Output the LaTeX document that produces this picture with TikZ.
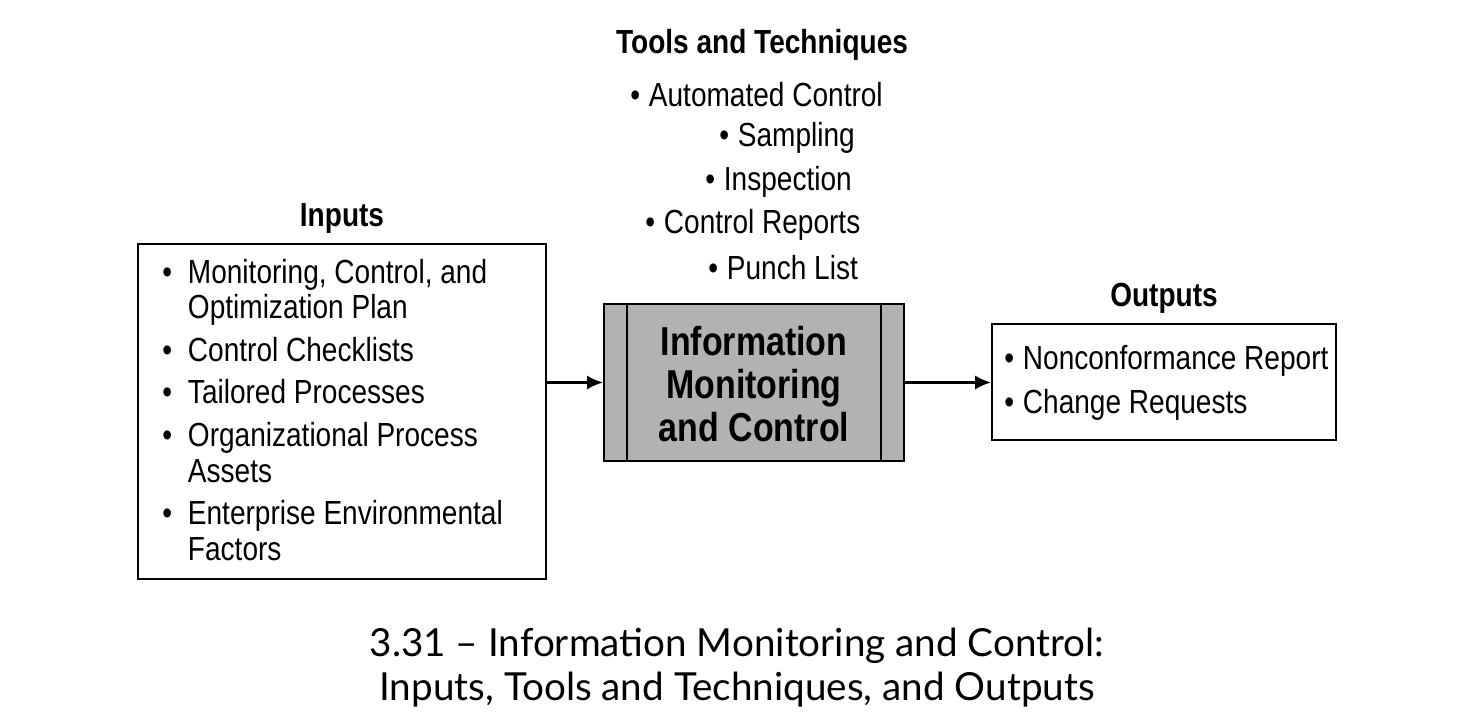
\documentclass[tikz,border=0pt]{standalone}
\usepackage{fontspec}
\setmainfont{Liberation Sans}[FakeStretch=0.84]
\newfontfamily\capfont{Lato}
\usetikzlibrary{positioning,arrows.meta}

\tikzset{
  box/.style={draw,line width=1.2pt,inner sep=0pt},
  ttl/.style={font=\bfseries\fontsize{19}{22}\selectfont},
  txt/.style={font=\fontsize{19}{22}\selectfont,inner sep=0pt,anchor=west},
  flow/.style={-{Latex[length=9pt,width=8pt]},line width=1.3pt},
}
\newcommand{\itm}{\textbullet\hspace{5pt}}

\begin{document}
\begin{tikzpicture}[x=0.02cm,y=0.02cm]
\useasboundingbox (0,0) rectangle (1475,720);

% Inputs
\node[box,minimum width=8.16cm,minimum height=6.7cm] (inbox) at (342,308.5) {};
\node[ttl] (intitle) at (342,502) {Inputs};
\node[txt,anchor=north west,align=left] (inlist) at (162,462) {%
\renewcommand{\arraystretch}{0.92}%
\begin{tabular}{@{}l@{\hspace{9pt}}l@{}}
\textbullet & Monitoring, Control, and\\
 & Optimization Plan\\[4pt]
\textbullet & Control Checklists\\[4pt]
\textbullet & Tailored Processes\\[4pt]
\textbullet & Organizational Process\\
 & Assets\\[4pt]
\textbullet & Enterprise Environmental\\
 & Factors
\end{tabular}};

% Process
\node[box,fill=gray!60,minimum width=6cm,minimum height=3.14cm] (proc) at (754,337.5) {};
\draw[line width=1.2pt] ([xshift=0.48cm]proc.north west) -- ([xshift=0.48cm]proc.south west);
\draw[line width=1.2pt] ([xshift=-0.48cm]proc.north east) -- ([xshift=-0.48cm]proc.south east);
\node[font=\bfseries\fontsize{23}{24.5}\selectfont,align=center] (proctext) at (754,336) {Information\\Monitoring\\and Control};

% Tools and Techniques
\node[ttl] (tooltitle) at (762,675) {Tools and Techniques};
\node[txt] (t1) at (630,625) {\itm Automated Control};
\node[txt] (t2) at (719,582) {\itm Sampling};
\node[txt] (t3) at (705,538) {\itm Inspection};
\node[txt] (t4) at (645,495) {\itm Control Reports};
\node[txt] (t5) at (708,452) {\itm Punch List};

% Outputs
\node[box,minimum width=6.88cm,minimum height=2.32cm] (outbox) at (1164,338) {};
\node[ttl] (outtitle) at (1164,422) {Outputs};
\node[txt] (o1) at (1004,359) {\itm Nonconformance Report};
\node[txt] (o2) at (1004,315) {\itm Change Requests};

% flows
\draw[flow] (inbox.east |- proc.west) -- (proc.west);
\draw[flow] (proc.east) -- (outbox.west |- proc.east);

% caption
\node[font=\capfont\fontsize{22}{25}\selectfont,align=center] (caption) at (737,52) {3.31 \textendash{} Information Monitoring and Control:\\Inputs, Tools and Techniques, and Outputs};
\end{tikzpicture}
\end{document}
